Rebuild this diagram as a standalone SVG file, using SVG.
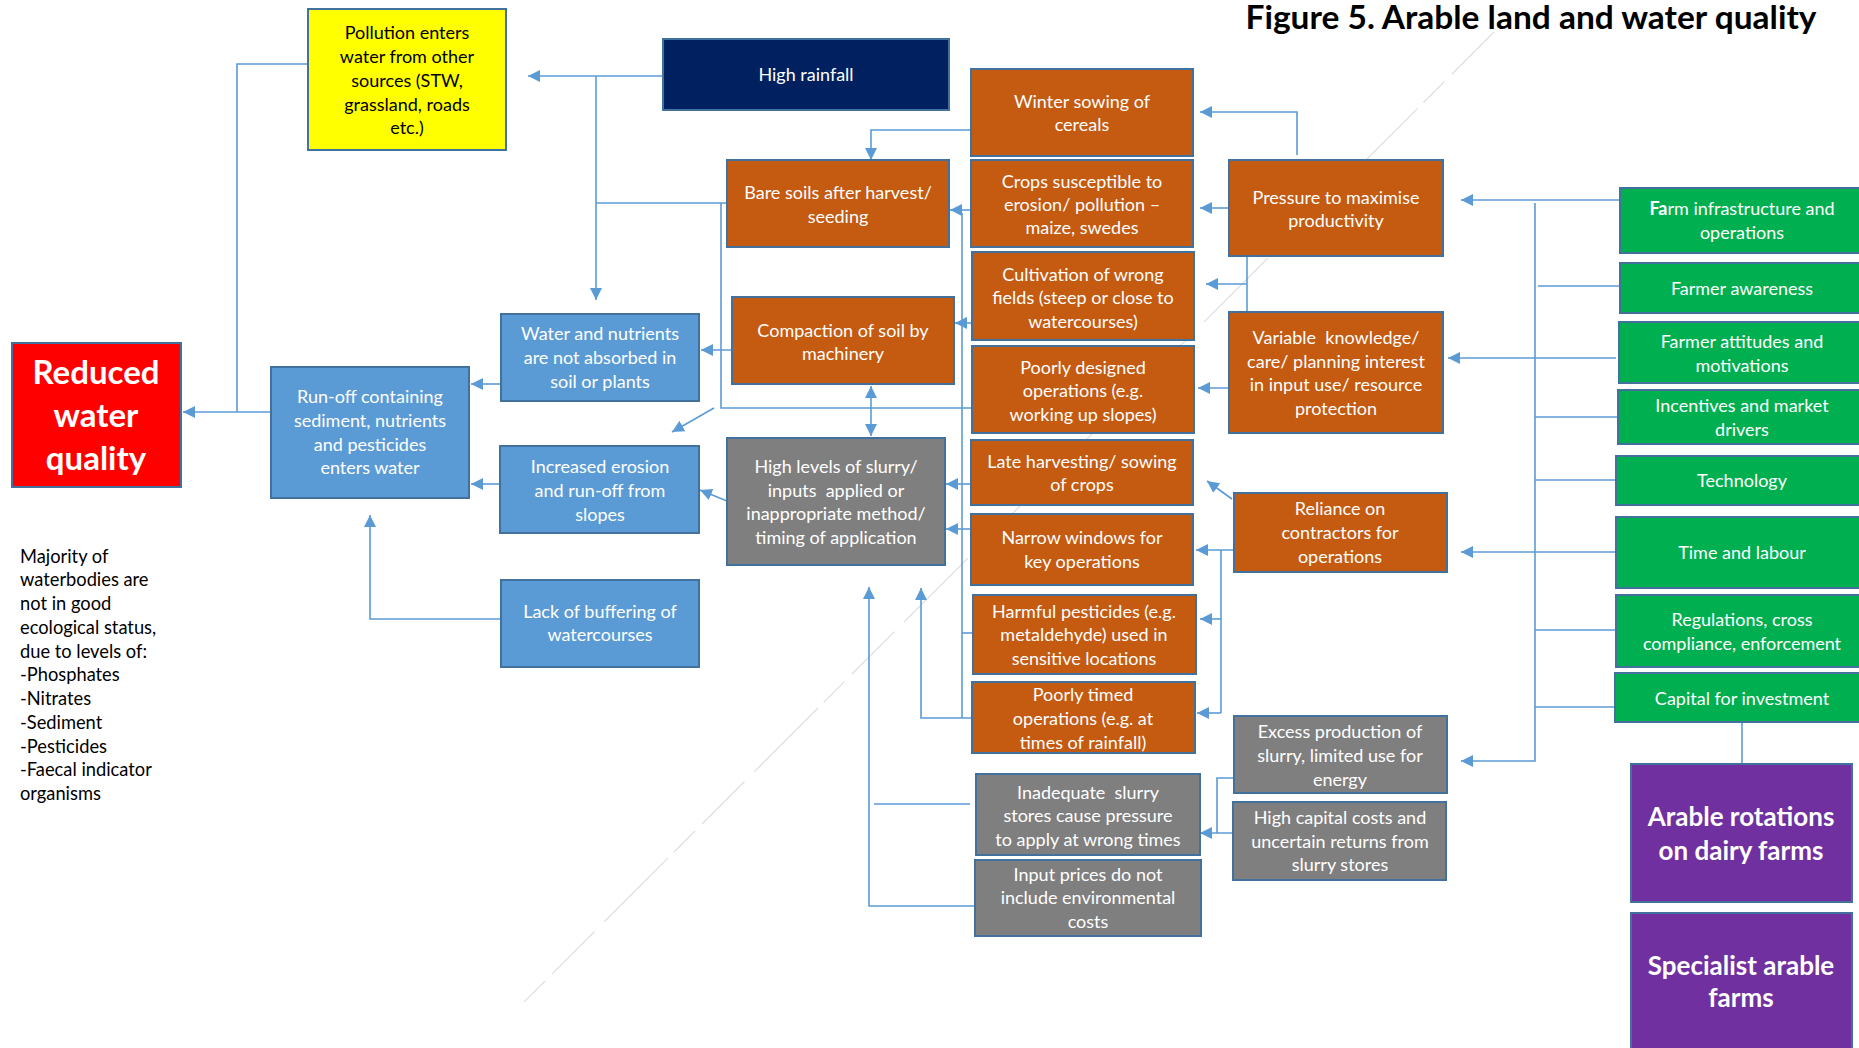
<svg xmlns="http://www.w3.org/2000/svg" width="1859" height="1048" viewBox="0 0 1859 1048">
  <style>
    .box { stroke: #41719C; stroke-width: 2; }
    .orange { fill: #C55A11; }
    .blue { fill: #5B9BD5; }
    .grey { fill: #7F7F7F; }
    .green { fill: #00B050; }
    .purple { fill: #7030A0; }
    .navy { fill: #002060; }
    .yellow { fill: #FFFF00; }
    .red { fill: #FF0000; }
    .t { font-family: Lato, "Liberation Sans", sans-serif; font-size: 18px; fill: #FFFFFF; text-anchor: middle; }
    .dark { fill: #000000; }
    .big { font-weight: bold; font-size: 33px; }
    .bold26 { font-weight: bold; font-size: 26px; }
    .note { font-family: Lato, "Liberation Sans", sans-serif; font-size: 18.3px; fill: #000000; }
    .title { font-family: Lato, "Liberation Sans", sans-serif; font-size: 32px; font-weight: bold; fill: #000000; }
    .conn { stroke: #5B9BD5; stroke-width: 1.6; fill: none; }
    .arr { marker-end: url(#head); }
  </style>
  <defs>
    <marker id="head" markerUnits="userSpaceOnUse" markerWidth="14" markerHeight="14" refX="12" refY="6" orient="auto">
      <path d="M0,0 L12,6 L0,12 z" fill="#5B9BD5"/>
    </marker>
  </defs>

  <rect width="1859" height="1048" fill="#FFFFFF"/>

  <!-- faint diagonal guide line -->
  <line x1="1494" y1="32" x2="522" y2="1004" stroke="#C8C8C8" stroke-width="1.3" stroke-dasharray="60 10 30 8 90 14" opacity="0.55"/>

  <text class="title" x="1531" y="29" text-anchor="middle" textLength="571" lengthAdjust="spacingAndGlyphs">Figure 5. Arable land and water quality</text>

  <!-- connectors -->
  <g id="connectors">
    <path class="conn" d="M308,64 H237 V412"/>
    <path class="conn arr" d="M271,412 H183"/>
    <path class="conn arr" d="M663,76 H528"/>
    <path class="conn arr" d="M596,76 V300"/>
    <path class="conn" d="M727,203 H596"/>
    <path class="conn" d="M721,203 V408 H972"/>
    <path class="conn arr" d="M714,408 L672,432"/>
    <path class="conn arr" d="M971,130 H871 V160"/>
    <path class="conn arr" d="M971,210 H950"/>
    <path class="conn" d="M962,213 V718"/>
    <path class="conn" d="M962,633 H973"/>
    <path class="conn arr" d="M981,323 H955"/>
    <path class="conn arr" d="M737,350 H701"/>
    <path class="conn arr" d="M501,384 H471"/>
    <path class="conn arr" d="M871,410 V386"/>
    <path class="conn arr" d="M871,410 V436"/>
    <path class="conn arr" d="M727,501 L700,490"/>
    <path class="conn arr" d="M501,484 H471"/>
    <path class="conn arr" d="M501,619 H370 V515"/>
    <path class="conn arr" d="M975,484 H946"/>
    <path class="conn arr" d="M978,529 H946"/>
    <path class="conn arr" d="M1297,155 V112 H1200"/>
    <path class="conn arr" d="M1229,208 H1200"/>
    <path class="conn" d="M1247,256 V312"/>
    <path class="conn arr" d="M1247,284 H1206"/>
    <path class="conn arr" d="M1234,388 H1198"/>
    <path class="conn arr" d="M1620,200 H1461"/>
    <path class="conn arr" d="M1535,203 V761 H1461"/>
    <path class="conn" d="M1538,286 H1630"/>
    <path class="conn" d="M1535,417 H1618"/>
    <path class="conn" d="M1535,480 H1616"/>
    <path class="conn" d="M1535,630 H1616"/>
    <path class="conn" d="M1535,707 H1615"/>
    <path class="conn arr" d="M1616,358 H1448"/>
    <path class="conn arr" d="M1616,552 H1461"/>
    <path class="conn" d="M1742,722 V764"/>
    <path class="conn arr" d="M1232,499 L1207,481"/>
    <path class="conn arr" d="M1234,550 H1196"/>
    <path class="conn" d="M1221,550 V713"/>
    <path class="conn arr" d="M1221,619 H1200"/>
    <path class="conn arr" d="M1221,713 H1197"/>
    <path class="conn" d="M1233,778 H1217 V833"/>
    <path class="conn arr" d="M1238,833 H1200"/>
    <path class="conn arr" d="M975,906 H869 V587"/>
    <path class="conn" d="M970,804 H874"/>
    <path class="conn arr" d="M972,718 H921 V588"/>
  </g>

  <!-- nodes -->
  <g id="pollution">
    <rect class="box yellow" x="308" y="9" width="198" height="141"/>
    <text class="t dark"><tspan x="407" y="39">Pollution enters</tspan><tspan x="407" y="63">water from other</tspan><tspan x="407" y="87">sources (STW,</tspan><tspan x="407" y="111">grassland, roads</tspan><tspan x="407" y="134">etc.)</tspan></text>
  </g>
  <g id="high-rainfall">
    <rect class="box navy" x="663" y="39" width="286" height="71"/>
    <text class="t"><tspan x="806" y="81">High rainfall</tspan></text>
  </g>
  <g id="winter-sowing">
    <rect class="box orange" x="971" y="69" width="222" height="87"/>
    <text class="t"><tspan x="1082" y="108">Winter sowing of</tspan><tspan x="1082" y="131">cereals</tspan></text>
  </g>
  <g id="crops-susceptible">
    <rect class="box orange" x="971" y="160" width="222" height="87"/>
    <text class="t"><tspan x="1082" y="188">Crops susceptible to</tspan><tspan x="1082" y="211">erosion/ pollution –</tspan><tspan x="1082" y="234">maize, swedes</tspan></text>
  </g>
  <g id="cultivation">
    <rect class="box orange" x="972" y="252" width="222" height="88"/>
    <text class="t"><tspan x="1083" y="281">Cultivation of wrong</tspan><tspan x="1083" y="304">fields (steep or close to</tspan><tspan x="1083" y="328">watercourses)</tspan></text>
  </g>
  <g id="poorly-designed">
    <rect class="box orange" x="972" y="346" width="222" height="87"/>
    <text class="t"><tspan x="1083" y="374">Poorly designed</tspan><tspan x="1083" y="397">operations (e.g.</tspan><tspan x="1083" y="421">working up slopes)</tspan></text>
  </g>
  <g id="late-harvesting">
    <rect class="box orange" x="971" y="440" width="222" height="65"/>
    <text class="t"><tspan x="1082" y="468">Late harvesting/ sowing</tspan><tspan x="1082" y="491">of crops</tspan></text>
  </g>
  <g id="narrow-windows">
    <rect class="box orange" x="971" y="514" width="222" height="71"/>
    <text class="t"><tspan x="1082" y="544">Narrow windows for</tspan><tspan x="1082" y="568">key operations</tspan></text>
  </g>
  <g id="harmful-pesticides">
    <rect class="box orange" x="973" y="595" width="223" height="79"/>
    <text class="t"><tspan x="1084" y="618">Harmful pesticides (e.g.</tspan><tspan x="1084" y="641">metaldehyde) used in</tspan><tspan x="1084" y="665">sensitive locations</tspan></text>
  </g>
  <g id="poorly-timed">
    <rect class="box orange" x="972" y="682" width="223" height="71"/>
    <text class="t"><tspan x="1083" y="701">Poorly timed</tspan><tspan x="1083" y="725">operations (e.g. at</tspan><tspan x="1083" y="749">times of rainfall)</tspan></text>
  </g>
  <g id="bare-soils">
    <rect class="box orange" x="727" y="160" width="222" height="87"/>
    <text class="t"><tspan x="838" y="199">Bare soils after harvest/</tspan><tspan x="838" y="223">seeding</tspan></text>
  </g>
  <g id="compaction">
    <rect class="box orange" x="732" y="297" width="222" height="87"/>
    <text class="t"><tspan x="843" y="337">Compaction of soil by</tspan><tspan x="843" y="360">machinery</tspan></text>
  </g>
  <g id="high-levels">
    <rect class="box grey" x="727" y="438" width="218" height="127"/>
    <text class="t" xml:space="preserve"><tspan x="836" y="473">High levels of slurry/</tspan><tspan x="836" y="497">inputs  applied or</tspan><tspan x="836" y="520">inappropriate method/</tspan><tspan x="836" y="544">timing of application</tspan></text>
  </g>
  <g id="water-nutrients">
    <rect class="box blue" x="501" y="314" width="198" height="87"/>
    <text class="t"><tspan x="600" y="340">Water and nutrients</tspan><tspan x="600" y="364">are not absorbed in</tspan><tspan x="600" y="388">soil or plants</tspan></text>
  </g>
  <g id="run-off">
    <rect class="box blue" x="271" y="367" width="198" height="131"/>
    <text class="t"><tspan x="370" y="403">Run-off containing</tspan><tspan x="370" y="427">sediment, nutrients</tspan><tspan x="370" y="451">and pesticides</tspan><tspan x="370" y="474">enters water</tspan></text>
  </g>
  <g id="reduced-water-quality">
    <rect class="box red" x="12" y="343" width="169" height="144"/>
    <text class="t big"><tspan x="96" y="384">Reduced</tspan><tspan x="96" y="427">water</tspan><tspan x="96" y="470">quality</tspan></text>
  </g>
  <g id="increased-erosion">
    <rect class="box blue" x="500" y="446" width="199" height="87"/>
    <text class="t"><tspan x="600" y="473">Increased erosion</tspan><tspan x="600" y="497">and run-off from</tspan><tspan x="600" y="521">slopes</tspan></text>
  </g>
  <g id="lack-of-buffering">
    <rect class="box blue" x="501" y="580" width="198" height="87"/>
    <text class="t"><tspan x="600" y="618">Lack of buffering of</tspan><tspan x="600" y="641">watercourses</tspan></text>
  </g>
  <g id="pressure">
    <rect class="box orange" x="1229" y="160" width="214" height="96"/>
    <text class="t"><tspan x="1336" y="204">Pressure to maximise</tspan><tspan x="1336" y="227">productivity</tspan></text>
  </g>
  <g id="variable-knowledge">
    <rect class="box orange" x="1229" y="312" width="214" height="121"/>
    <text class="t" xml:space="preserve"><tspan x="1336" y="344">Variable  knowledge/</tspan><tspan x="1336" y="368">care/ planning interest</tspan><tspan x="1336" y="391">in input use/ resource</tspan><tspan x="1336" y="415">protection</tspan></text>
  </g>
  <g id="reliance">
    <rect class="box orange" x="1234" y="493" width="213" height="79"/>
    <text class="t"><tspan x="1340" y="515">Reliance on</tspan><tspan x="1340" y="539">contractors for</tspan><tspan x="1340" y="563">operations</tspan></text>
  </g>
  <g id="excess-production">
    <rect class="box grey" x="1234" y="716" width="213" height="77"/>
    <text class="t"><tspan x="1340" y="738">Excess production of</tspan><tspan x="1340" y="762">slurry, limited use for</tspan><tspan x="1340" y="786">energy</tspan></text>
  </g>
  <g id="high-capital-costs">
    <rect class="box grey" x="1233" y="802" width="213" height="78"/>
    <text class="t"><tspan x="1340" y="824">High capital costs and</tspan><tspan x="1340" y="848">uncertain returns from</tspan><tspan x="1340" y="871">slurry stores</tspan></text>
  </g>
  <g id="inadequate-stores">
    <rect class="box grey" x="976" y="774" width="224" height="81"/>
    <text class="t" xml:space="preserve"><tspan x="1088" y="799">Inadequate  slurry</tspan><tspan x="1088" y="822">stores cause pressure</tspan><tspan x="1088" y="846">to apply at wrong times</tspan></text>
  </g>
  <g id="input-prices">
    <rect class="box grey" x="975" y="860" width="226" height="76"/>
    <text class="t"><tspan x="1088" y="881">Input prices do not</tspan><tspan x="1088" y="904">include environmental</tspan><tspan x="1088" y="928">costs</tspan></text>
  </g>

  <g id="farm-infrastructure">
    <rect class="box green" x="1620" y="188" width="250" height="65"/>
    <text class="t"><tspan x="1742" y="215"><tspan font-weight="bold">Fa</tspan>rm infrastructure and</tspan><tspan x="1742" y="239">operations</tspan></text>
  </g>
  <g id="farmer-awareness">
    <rect class="box green" x="1620" y="263" width="250" height="50"/>
    <text class="t"><tspan x="1742" y="295">Farmer awareness</tspan></text>
  </g>
  <g id="farmer-attitudes">
    <rect class="box green" x="1619" y="322" width="251" height="61"/>
    <text class="t"><tspan x="1742" y="348">Farmer attitudes and</tspan><tspan x="1742" y="372">motivations</tspan></text>
  </g>
  <g id="incentives">
    <rect class="box green" x="1618" y="390" width="252" height="54"/>
    <text class="t"><tspan x="1742" y="412">Incentives and market</tspan><tspan x="1742" y="436">drivers</tspan></text>
  </g>
  <g id="technology">
    <rect class="box green" x="1616" y="456" width="254" height="49"/>
    <text class="t"><tspan x="1742" y="487">Technology</tspan></text>
  </g>
  <g id="time-labour">
    <rect class="box green" x="1616" y="517" width="254" height="71"/>
    <text class="t"><tspan x="1742" y="559">Time and labour</tspan></text>
  </g>
  <g id="regulations">
    <rect class="box green" x="1616" y="595" width="254" height="72"/>
    <text class="t"><tspan x="1742" y="626">Regulations, cross</tspan><tspan x="1742" y="650">compliance, enforcement</tspan></text>
  </g>
  <g id="capital">
    <rect class="box green" x="1615" y="673" width="255" height="49"/>
    <text class="t"><tspan x="1742" y="705">Capital for investment</tspan></text>
  </g>
  <g id="arable-rotations">
    <rect class="box purple" x="1631" y="764" width="221" height="138"/>
    <text class="t bold26"><tspan x="1741" y="826">Arable rotations</tspan><tspan x="1741" y="860">on dairy farms</tspan></text>
  </g>
  <g id="specialist-arable">
    <rect class="box purple" x="1631" y="913" width="221" height="145"/>
    <text class="t bold26"><tspan x="1741" y="975">Specialist arable</tspan><tspan x="1741" y="1007">farms</tspan></text>
  </g>

  <g id="status-note">
    <text class="note"><tspan x="20" y="563">Majority of</tspan><tspan x="20" y="586">waterbodies are</tspan><tspan x="20" y="610">not in good</tspan><tspan x="20" y="634">ecological status,</tspan><tspan x="20" y="658">due to levels of:</tspan><tspan x="20" y="681">-Phosphates</tspan><tspan x="20" y="705">-Nitrates</tspan><tspan x="20" y="729">-Sediment</tspan><tspan x="20" y="753">-Pesticides</tspan><tspan x="20" y="776">-Faecal indicator</tspan><tspan x="20" y="800">organisms</tspan></text>
  </g>
</svg>
